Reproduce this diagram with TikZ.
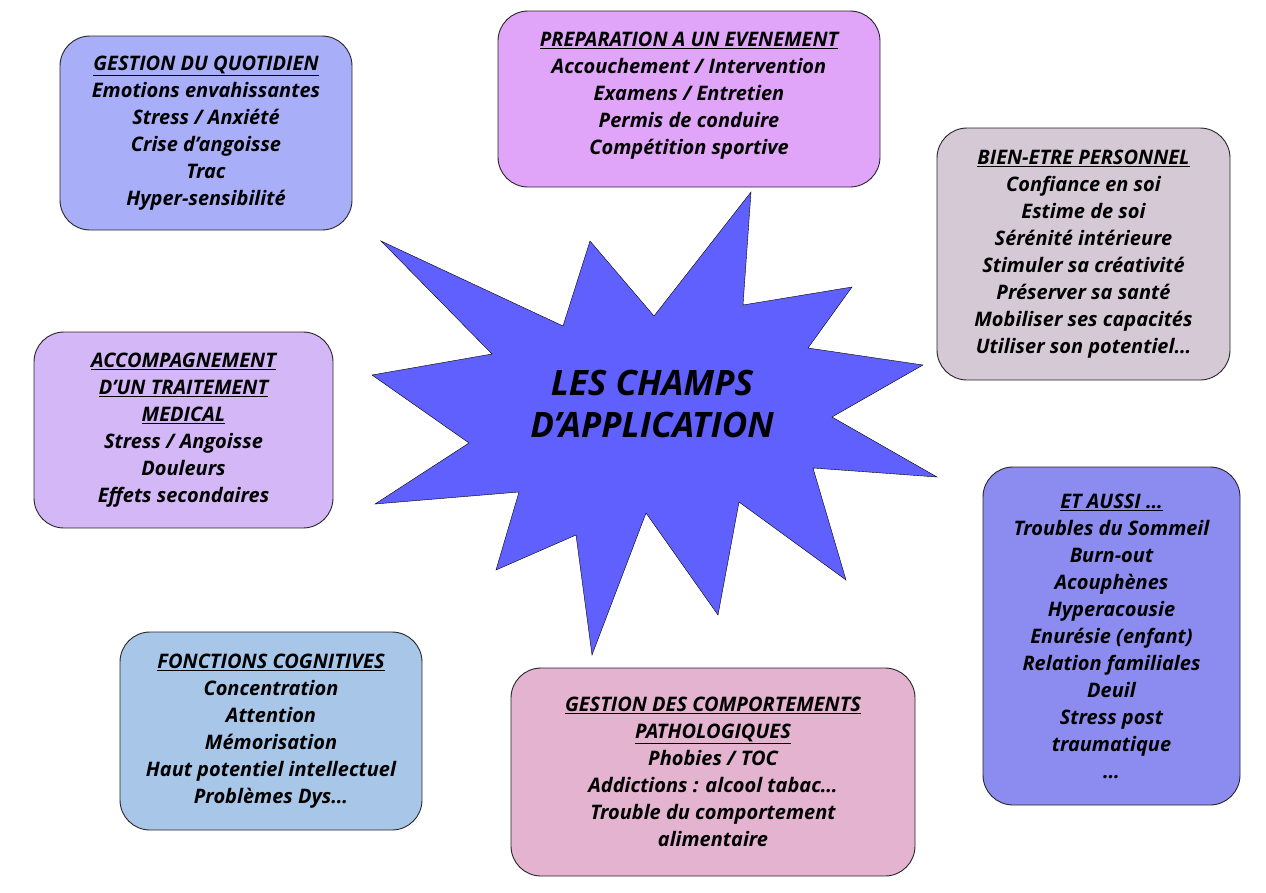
\documentclass[tikz,border=0pt]{standalone}
\usepackage{fontspec}
\setmainfont{Open Sans}
\usepackage{tikz}
\definecolor{quotidien}{HTML}{A9AEF8}
\definecolor{evenement}{HTML}{E0A4F8}
\definecolor{bienetre}{HTML}{D5C9D6}
\definecolor{medical}{HTML}{D3B7F6}
\definecolor{aussi}{HTML}{8C8CF0}
\definecolor{cognitif}{HTML}{A8C6E8}
\definecolor{comportement}{HTML}{E3B3CF}
\definecolor{etoile}{HTML}{6060FF}
\tikzset{>=stealth}
\newcommand{\champfont}{\fontsize{20}{27}\selectfont\bfseries\itshape}
\newcommand{\titre}[1]{\underline{#1}}
\tikzset{champ/.style={draw=black!85, line width=0.9pt, rounded corners=30pt, align=center, font=\champfont, inner sep=0pt}}

\begin{document}
\begin{tikzpicture}[x=1pt,y=-1pt]
      \useasboundingbox (0,0) rectangle (1266,892);
      % l'etoile
      \filldraw[draw=black, fill=etoile] plot coordinates {(751,192) (743,305) (852,287) (808,348) (923,365) (832,417) (937,477) (813,468) (846,580) (739,502) (718,615) (646,513) (592,655) (576,535) (496,570) (519,492) (375,504) (469,443) (372,375) (492,354) (381,241) (563,326) (590,241) (654,316)} -- cycle;
      \node[font=\fontsize{35}{42}\selectfont\bfseries\itshape, align=center] (centre) at (652,404) {LES CHAMPS\\D'APPLICATION};
      % les boites
      \node[champ, fill=quotidien, minimum width=292pt, minimum height=194pt] (quotidien) at (206,133)
        {\titre{GESTION DU QUOTIDIEN}\\Emotions envahissantes\\Stress / Anxiété\\Crise d'angoisse\\Trac\\Hyper-sensibilité};
      \node[champ, fill=evenement, minimum width=382pt, minimum height=176pt] (evenement) at (689,99)
        {\titre{PREPARATION A UN EVENEMENT}\\Accouchement / Intervention\\Examens / Entretien\\Permis de conduire\\Compétition sportive\\[-16pt]\mbox{}};
      \node[champ, fill=bienetre, minimum width=293pt, minimum height=252pt] (bienetre) at (1083.5,254)
        {\titre{BIEN-ETRE PERSONNEL}\\Confiance en soi\\Estime de soi\\Sérénité intérieure\\Stimuler sa créativité\\Préserver sa santé\\Mobiliser ses capacités\\Utiliser son potentiel\dots};
      \node[champ, fill=medical, minimum width=299pt, minimum height=196pt] (medical) at (183.5,430)
        {\titre{ACCOMPAGNEMENT}\\\titre{D'UN TRAITEMENT}\\\titre{MEDICAL}\\Stress / Angoisse\\Douleurs\\Effets secondaires};
      \node[champ, fill=aussi, minimum width=257pt, minimum height=338pt] (aussi) at (1111.5,636)
        {\titre{ET AUSSI \dots}\\Troubles du Sommeil\\Burn-out\\Acouphènes\\Hyperacousie\\Enurésie (enfant)\\Relation familiales\\Deuil\\Stress post\\traumatique\\\dots};
      \node[champ, fill=cognitif, minimum width=302pt, minimum height=198pt] (cognitif) at (271,731)
        {\titre{FONCTIONS COGNITIVES}\\Concentration\\Attention\\Mémorisation\\Haut potentiel intellectuel\\Problèmes Dys\dots};
      \node[champ, fill=comportement, minimum width=404pt, minimum height=208pt] (comportement) at (713,772)
        {\titre{GESTION DES COMPORTEMENTS}\\\titre{PATHOLOGIQUES}\\Phobies / TOC\\Addictions : alcool tabac\dots\\Trouble du comportement\\alimentaire};
    \end{tikzpicture}
\end{document}
